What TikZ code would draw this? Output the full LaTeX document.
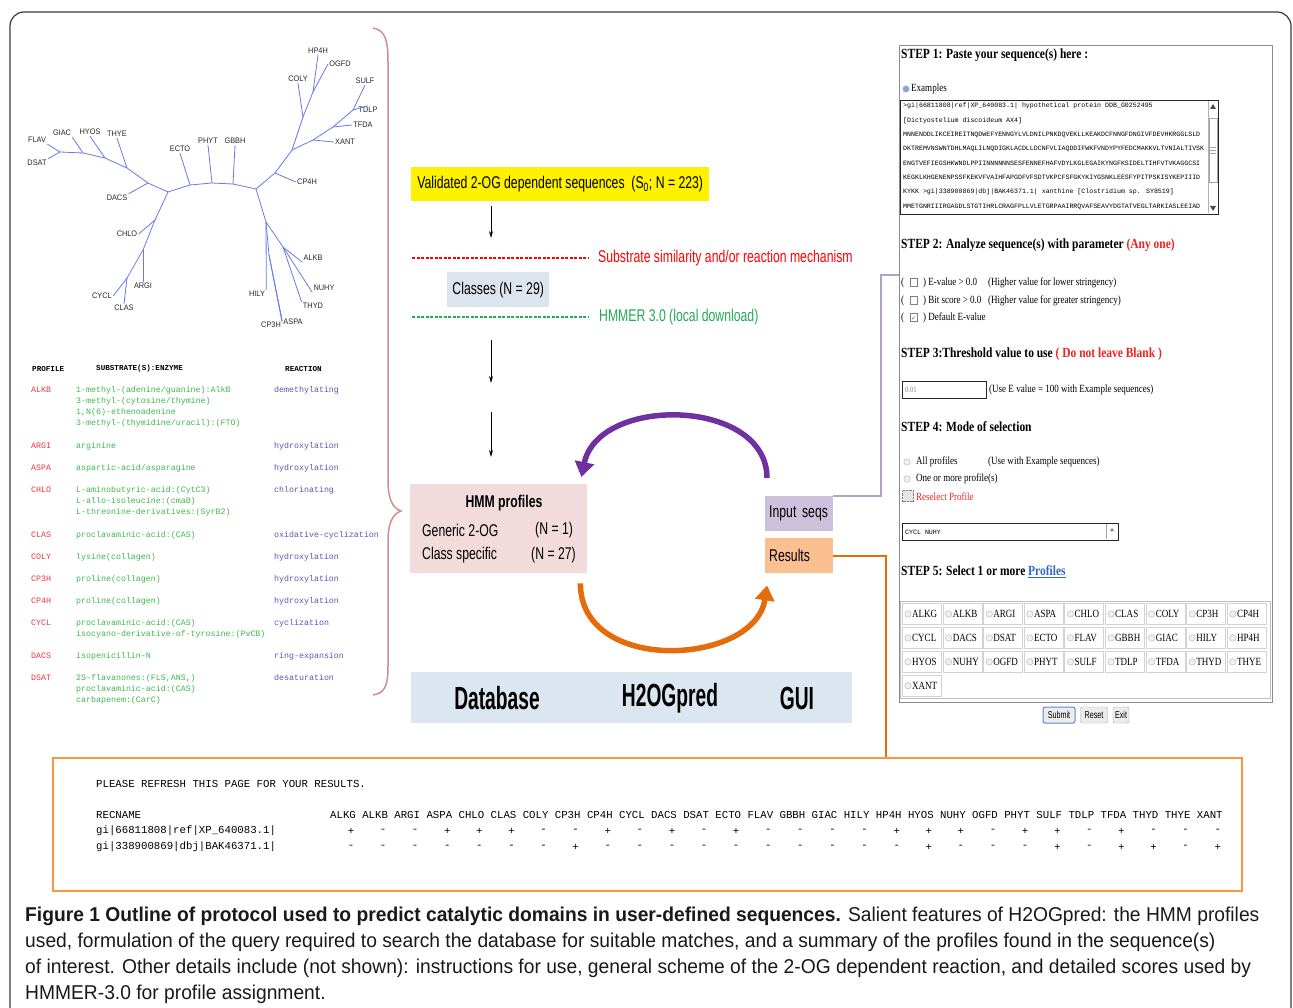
\documentclass[tikz,border=0pt]{standalone}
\usepackage{fontspec}
\setmainfont{Liberation Serif}
\newfontfamily\treefont[FakeStretch=0.92]{Liberation Sans}
\newfontfamily\flowfont[FakeStretch=0.72]{Liberation Sans}
\newfontfamily\barfont[FakeStretch=0.6]{Liberation Sans}
\newfontfamily\capfont[FakeStretch=0.962]{Liberation Sans}
\newfontfamily\codefont{Liberation Mono}
\newfontfamily\webfont[FakeStretch=0.82]{Liberation Serif}
\newfontfamily\symfont{DejaVu Sans}
\usetikzlibrary{positioning,arrows.meta,calc}

\definecolor{framegray}{HTML}{3A3A3A}
\definecolor{treeblue}{HTML}{6B78E8}
\definecolor{bracerose}{HTML}{D58C8C}
\definecolor{profred}{HTML}{EE3344}
\definecolor{subgreen}{HTML}{3DB84A}
\definecolor{reacblue}{HTML}{5A55B5}
\definecolor{hmmpink}{HTML}{F2DCDB}
\definecolor{classblue}{HTML}{DCE4EE}
\definecolor{dbblue}{HTML}{DCE6F1}
\definecolor{inlav}{HTML}{CCC1DA}
\definecolor{respeach}{HTML}{FAC090}
\definecolor{lavline}{HTML}{B3A2C7}
\definecolor{resorange}{HTML}{E46C0A}
\definecolor{boxorange}{HTML}{F79646}
\definecolor{arcpurple}{HTML}{7030A0}
\definecolor{hmmgreen}{HTML}{22AA55}
\definecolor{linkblue}{HTML}{3366CC}
\definecolor{stepred}{HTML}{EE2222}
\definecolor{panelgray}{HTML}{8C8C8C}

\newcommand{\emptybox}{{\color{gray}\setlength{\fboxsep}{0pt}\fbox{\rule{0pt}{7pt}\hspace{7pt}}}}
\newcommand{\tickedbox}{{\color{gray}\setlength{\fboxsep}{0pt}\fbox{\rule{0pt}{7pt}\makebox[7pt]{\symfont\fontsize{6}{6}\selectfont\textcolor{linkblue}{✓}}}}}

\begin{document}
\begin{tikzpicture}[x=1pt,y=-1pt,
  treeedge/.style={draw=treeblue, line width=0.8},
  treelab/.style={inner sep=1.2pt, text=black!85, font=\treefont\fontsize{8}{8}\selectfont},
  tabhead/.style={anchor=west, inner sep=0, font=\codefont\bfseries\fontsize{7.6}{7.6}\selectfont},
  profname/.style={anchor=west, inner sep=0, text=profred, font=\codefont\fontsize{8.3}{8.3}\selectfont},
  substr/.style={anchor=west, inner sep=0, text=subgreen, font=\codefont\fontsize{8.3}{8.3}\selectfont},
  reaction/.style={anchor=west, inner sep=0, text=reacblue, font=\codefont\fontsize{8.3}{8.3}\selectfont},
  flowtext/.style={anchor=west, inner sep=0, font=\flowfont\fontsize{17}{17}\selectfont},
  flowarrow/.style={-{Stealth[length=7pt,width=4pt]}, line width=0.8},
  steptitle/.style={anchor=west, inner sep=0, font=\webfont\bfseries\fontsize{14}{14}\selectfont},
  webtext/.style={anchor=west, inner sep=0, font=\webfont\fontsize{11}{11}\selectfont},
  seqline/.style={anchor=west, inner sep=0, font=\codefont\fontsize{6.6}{6.6}\selectfont},
  radiobtn/.style={circle, draw=gray!60, fill=gray!12, minimum size=6.5, inner sep=0},
  profcell/.style={draw=gray!35, line width=0.8, minimum width=39, minimum height=21, anchor=west, inner sep=0},
  webbtn/.style={rounded corners=2, fill=gray!15, draw=gray!70, minimum height=16, inner sep=1, font=\flowfont\fontsize{10}{10}\selectfont},
  restext/.style={anchor=west, inner sep=0, font=\codefont\fontsize{10.7}{10.7}\selectfont},
  captext/.style={anchor=west, inner sep=0, text=black!90, font=\capfont\fontsize{20}{20}\selectfont}]
\useasboundingbox (0,0) rectangle (1293,1008);
\draw[framegray, line width=1.2, rounded corners=14] (10,1008) -- (10,12) -- (1291,12) -- (1291,1008);

% tree of profiles
\node[treelab] (lHP4H) at (318,51) {HP4H};
\node[treelab] (lOGFD) at (340,64) {OGFD};
\node[treelab] (lCOLY) at (298,79) {COLY};
\node[treelab] (lSULF) at (365,81) {SULF};
\node[treelab] (lTDLP) at (368,110) {TDLP};
\node[treelab] (lTFDA) at (363,125) {TFDA};
\node[treelab] (lXANT) at (345,142) {XANT};
\node[treelab] (lCP4H) at (307,182) {CP4H};
\node[treelab] (lECTO) at (180,149) {ECTO};
\node[treelab] (lPHYT) at (208,141) {PHYT};
\node[treelab] (lGBBH) at (235,141) {GBBH};
\node[treelab] (lTHYE) at (117,134) {THYE};
\node[treelab] (lHYOS) at (90,132) {HYOS};
\node[treelab] (lGIAC) at (62,133) {GIAC};
\node[treelab] (lFLAV) at (37,140) {FLAV};
\node[treelab] (lDSAT) at (37,163) {DSAT};
\node[treelab] (lDACS) at (117,198) {DACS};
\node[treelab] (lCHLO) at (127,234) {CHLO};
\node[treelab] (lARGI) at (143,286) {ARGI};
\node[treelab] (lCYCL) at (102,296) {CYCL};
\node[treelab] (lCLAS) at (124,308) {CLAS};
\node[treelab] (lALKB) at (313,258) {ALKB};
\node[treelab] (lNUHY) at (324,288) {NUHY};
\node[treelab] (lTHYD) at (313,306) {THYD};
\node[treelab] (lHILY) at (257,294) {HILY};
\node[treelab] (lCP3H) at (271,325) {CP3H};
\node[treelab] (lASPA) at (293,322) {ASPA};
\coordinate (hubL) at (168,192);
\coordinate (eE) at (190,185);
\coordinate (eP) at (212,183);
\coordinate (eG) at (233,184);
\coordinate (hubR) at (256,189);
\coordinate (dA) at (148,183);
\coordinate (dB) at (127,168);
\coordinate (dC) at (105,158);
\coordinate (dD) at (83,153);
\coordinate (dE) at (60,152);
\coordinate (cA) at (155,220);
\coordinate (cB) at (143,250);
\coordinate (cC) at (127,278);
\coordinate (rA) at (275,173);
\coordinate (rB) at (292,150);
\coordinate (rC) at (303,117);
\coordinate (rD) at (313,92);
\coordinate (rE) at (313,140);
\coordinate (rF) at (333,127);
\coordinate (rG) at (353,110);
\coordinate (sA) at (266,222);
\coordinate (sB) at (269,255);
\coordinate (sC) at (283,247);
\draw[treeedge] (hubL) -- (eE) -- (eP) -- (eG) -- (hubR);
\draw[treeedge] (eE) -- (lECTO.south);
\draw[treeedge] (eP) -- (lPHYT.south);
\draw[treeedge] (eG) -- (lGBBH.south);
\draw[treeedge] (hubL) -- (dA) -- (dB) -- (dC) -- (dD) -- (dE);
\draw[treeedge] (dA) -- (lDACS.north east);
\draw[treeedge] (dB) -- (lTHYE.south);
\draw[treeedge] (dC) -- (lHYOS.south);
\draw[treeedge] (dD) -- (lGIAC.south east);
\draw[treeedge] (dE) -- (lFLAV.south east);
\draw[treeedge] (dE) -- (lDSAT.north east);
\draw[treeedge] (hubL) -- (cA) -- (cB) -- (cC);
\draw[treeedge] (cA) -- (lCHLO.east);
\draw[treeedge] (cB) -- (lARGI.north);
\draw[treeedge] (cC) -- (lCYCL.east);
\draw[treeedge] (cC) -- (lCLAS.north);
\draw[treeedge] (hubR) -- (rA) -- (rB) -- (rC) -- (rD);
\draw[treeedge] (rA) -- (lCP4H.west);
\draw[treeedge] (rC) -- (lCOLY.south);
\draw[treeedge] (rD) -- (lHP4H.south);
\draw[treeedge] (rD) -- (lOGFD.west);
\draw[treeedge] (rB) -- (rE) -- (rF) -- (rG);
\draw[treeedge] (rE) -- (lXANT.west);
\draw[treeedge] (rF) -- (lTFDA.west);
\draw[treeedge] (rG) -- (lTDLP.north);
\draw[treeedge] (rG) -- (lSULF.south);
\draw[treeedge] (hubR) -- (sA) -- (lHILY.north east);
\draw[treeedge] (sA) -- (sB) -- (lCP3H.north east);
\draw[treeedge] (sB) -- (lASPA.west);
\draw[treeedge] (sA) -- (sC) -- (lALKB.south west);
\draw[treeedge] (sC) -- (lNUHY.south west);
\draw[treeedge] (sC) -- (lTHYD.north west);

% profile table
\node[tabhead] (hprof) at (32,369) {PROFILE};
\node[tabhead] (hsub) at (96,369) {SUBSTRATE(S):ENZYME};
\node[tabhead] (hreac) at (285,369) {REACTION};
\node[profname] (pALKB) at (31,390) {ALKB};
\node[substr] (sALKB1) at (76,390) {1-methyl-(adenine/guanine):AlkB};
\node[substr] (sALKB2) at (76,401) {3-methyl-(cytosine/thymine)};
\node[substr] (sALKB3) at (76,412) {1,N(6)-ethenoadenine};
\node[substr] (sALKB4) at (76,423) {3-methyl-(thymidine/uracil):(FTO)};
\node[reaction] (rALKB) at (274,390) {demethylating};
\node[profname] (pARGI) at (31,446) {ARGI};
\node[substr] (sARGI) at (76,446) {arginine};
\node[reaction] (rARGI) at (274,446) {hydroxylation};
\node[profname] (pASPA) at (31,468) {ASPA};
\node[substr] (sASPA) at (76,468) {aspartic-acid/asparagine};
\node[reaction] (rASPA) at (274,468) {hydroxylation};
\node[profname] (pCHLO) at (31,490) {CHLO};
\node[substr] (sCHLO1) at (76,490) {L-aminobutyric-acid:(CytC3)};
\node[substr] (sCHLO2) at (76,501) {L-allo-isoleucine:(cmaB)};
\node[substr] (sCHLO3) at (76,512) {L-threonine-derivatives:(SyrB2)};
\node[reaction] (rCHLO) at (274,490) {chlorinating};
\node[profname] (pCLAS) at (31,535) {CLAS};
\node[substr] (sCLAS) at (76,535) {proclavaminic-acid:(CAS)};
\node[reaction] (rCLAS) at (274,535) {oxidative-cyclization};
\node[profname] (pCOLY) at (31,557) {COLY};
\node[substr] (sCOLY) at (76,557) {lysine(collagen)};
\node[reaction] (rCOLY) at (274,557) {hydroxylation};
\node[profname] (pCP3H) at (31,579) {CP3H};
\node[substr] (sCP3H) at (76,579) {proline(collagen)};
\node[reaction] (rCP3H) at (274,579) {hydroxylation};
\node[profname] (pCP4H) at (31,601) {CP4H};
\node[substr] (sCP4H) at (76,601) {proline(collagen)};
\node[reaction] (rCP4H) at (274,601) {hydroxylation};
\node[profname] (pCYCL) at (31,623) {CYCL};
\node[substr] (sCYCL1) at (76,623) {proclavaminic-acid:(CAS)};
\node[substr] (sCYCL2) at (76,634) {isocyano-derivative-of-tyrosine:(PvCB)};
\node[reaction] (rCYCL) at (274,623) {cyclization};
\node[profname] (pDACS) at (31,656) {DACS};
\node[substr] (sDACS) at (76,656) {isopenicillin-N};
\node[reaction] (rDACS) at (274,656) {ring-expansion};
\node[profname] (pDSAT) at (31,678) {DSAT};
\node[substr] (sDSAT1) at (76,678) {2S-flavanones:(FLS,ANS,)};
\node[substr] (sDSAT2) at (76,689) {proclavaminic-acid:(CAS)};
\node[substr] (sDSAT3) at (76,700) {carbapenem:(CarC)};
\node[reaction] (rDSAT) at (274,678) {desaturation};
\draw[bracerose, line width=1.5] (373,28) .. controls (386,30) and (388,42) .. (388,62) -- (388,480)
  .. controls (388,498) and (392,508) .. (401,511) .. controls (392,514) and (388,524) .. (388,542)
  -- (388,665) .. controls (388,684) and (386,693) .. (373,695);

% protocol flow
\node[fill=yellow, minimum width=298, minimum height=34, anchor=north west, inner sep=0,
  font=\flowfont\fontsize{17}{17}\selectfont] (valid) at (411,167) {Validated 2-OG dependent sequences\ \ (S\textsubscript{0}; N = 223)};
\coordinate (ar1a) at (491,206);
\coordinate (ar1b) at (491,238);
\draw[flowarrow] (ar1a) -- (ar1b);
\coordinate (reddash) at (412,258);
\node[flowtext, text=red] (mech) at (598,258) {Substrate similarity and/or reaction mechanism};
\draw[red, line width=1.3, dash pattern=on 3pt off 1.5pt] (reddash) -- ([xshift=-10pt]mech.west);
\node[fill=classblue, minimum width=102, minimum height=35, anchor=north west, inner sep=0,
  font=\flowfont\fontsize{17}{17}\selectfont] (classes) at (447,272) {Classes (N = 29)};
\coordinate (greendash) at (412,317);
\node[flowtext, text=hmmgreen] (hmmer) at (599,317) {HMMER 3.0 (local download)};
\draw[hmmgreen, line width=1.3, dash pattern=on 3pt off 1.5pt] (greendash) -- ([xshift=-11pt]hmmer.west);
\coordinate (ar2a) at (491,340);
\coordinate (ar2b) at (491,383);
\draw[flowarrow] (ar2a) -- (ar2b);
\coordinate (ar3a) at (491,412);
\coordinate (ar3b) at (491,457);
\draw[flowarrow] (ar3a) -- (ar3b);
\node[fill=hmmpink, minimum width=177, minimum height=89, anchor=north west, inner sep=0] (hmm) at (410,484) {};
\node[flowtext, anchor=center, font=\flowfont\bfseries\fontsize{17}{17}\selectfont] (hmmtitle) at (504,503) {HMM profiles};
\node[flowtext] (gen) at (422,530) {Generic 2-OG};
\node[flowtext] (genn) at (535,530) {(N = 1)};
\node[flowtext] (cls) at (422,555) {Class specific};
\node[flowtext] (clsn) at (531,555) {(N = 27)};
\node[fill=inlav, minimum height=35, text width=60, align=left, inner xsep=4, inner ysep=0, anchor=north west,
  font=\flowfont\fontsize{17}{17}\selectfont] (inseq) at (765,496) {Input seqs};
\node[fill=respeach, minimum height=35, text width=60, align=left, inner xsep=4, inner ysep=0, anchor=north west,
  font=\flowfont\fontsize{17}{17}\selectfont] (results) at (765,538) {Results};
\draw[arcpurple, line width=5.5, -{Triangle[length=15pt,width=19pt]}] ([shift={(2,-18)}]inseq.north west)
  .. controls +(0,-80) and +(17,-82) .. ([shift={(-6,-7)}]hmm.north east);
\draw[resorange, line width=5.5, -{Triangle[length=15pt,width=19pt]}] ([shift={(-7,10)}]hmm.south east)
  .. controls +(0,92) and +(-12,80) .. ([shift={(2,12)}]results.south west);
\node[fill=dbblue, minimum width=441, minimum height=51, anchor=north west, inner sep=0] (dbbar) at (411,672) {};
\node[font=\barfont\bfseries\fontsize{32}{32}\selectfont, inner sep=0] (dbtxt) at (497,698) {Database};
\node[font=\barfont\bfseries\fontsize{32}{32}\selectfont, inner sep=0] (predtxt) at (670,698) {H2OGpred};
\node[font=\barfont\bfseries\fontsize{32}{32}\selectfont, inner sep=0] (guitxt) at (797,698) {GUI};

% web form
\node[draw=panelgray, line width=0.9, minimum width=373, minimum height=657, anchor=north west, inner sep=0] (panel) at (899,45) {};
\coordinate (lavturn) at (881,275);
\draw[lavline, line width=1.6] (inseq.north east) -| (lavturn) -- (lavturn -| panel.west);
\node[steptitle] (s1) at (901,55) {STEP 1: Paste your sequence(s) here :};
\node[radiobtn, fill=linkblue!60] (exrad) at (906,89) {};
\node[webtext] (ex) at (911,89) {Examples};
\node[draw=black!85, line width=1, minimum width=318, minimum height=114, anchor=north west, inner sep=0] (seqbox) at (900,100) {};
\node[seqline] (q1) at (903,106) {>gi|66811808|ref|XP\_640083.1| hypothetical protein DDB\_G0252495};
\node[seqline] (q2) at (903,121) {[Dictyostelium discoideum AX4]};
\node[seqline] (q3) at (903,135) {MNNENDDLIKCEIREITNQDWEFYENNGYLVLDNILPNKDQVEKLLKEAKDCFNNGFDNGIVFDEVHKRGGLSLD};
\node[seqline] (q4) at (903,149) {DKTREMVNSWNTDHLMAQLILNQDIGKLACDLLDCNFVLIAQDDIFWKFVNDYPYFEDCMAKKVLTVNIALTIVSK};
\node[seqline] (q5) at (903,163) {ENGTVEFIEGSHKWNDLPPIINNNNNNSESFENNEFHAFVDYLKGLEGAIKYNGFKSIDELTIHFVTVKAGGCSI};
\node[seqline] (q6) at (903,177) {KEGKLKHGENENPSSFKEKVFVAIHFAPGDFVFSDTVKPCFSFGKYKIYGSNKLEESFYPITPSKISYKEPIIID};
\node[seqline] (q7) at (903,192) {KYKK >gi|338900869|dbj|BAK46371.1| xanthine [Clostridium sp. SY8519]};
\node[seqline] (q8) at (903,207) {MMETGNRIIIRGAGDLSTGTIHRLCRAGFPLLVLETGRPAAIRRQVAFSEAVYDGTATVEGLTARKIASLEEIAD};
\draw[gray!60] (1208,101) -- (1208,213);
\fill[black!70] (1210,109) -- (1216,109) -- (1213,104) -- cycle;
\fill[black!70] (1210,206) -- (1216,206) -- (1213,211) -- cycle;
\draw[gray!70] (1209,118) rectangle (1217,182);
\draw[gray!70] (1210,147) -- (1216,147) (1210,150) -- (1216,150) (1210,153) -- (1216,153);
\node[steptitle] (s2) at (901,245) {STEP 2: Analyze sequence(s) with parameter \textcolor{stepred}{(Any one)}};
\node[webtext] (o1) at (901,283) {(\enspace\emptybox\enspace) E-value > 0.0};
\node[webtext] (o1b) at (988,283) {(Higher value for lower stringency)};
\node[webtext] (o2) at (901,301) {(\enspace\emptybox\enspace) Bit score > 0.0};
\node[webtext] (o2b) at (988,301) {(Higher value for greater stringency)};
\node[webtext] (o3) at (901,318) {(\enspace\tickedbox\enspace) Default E-value};
\node[steptitle] (s3) at (901,354) {STEP 3:Threshold value to use \textcolor{stepred}{( Do not leave Blank )}};
\node[draw=black!85, line width=0.9, minimum width=84, minimum height=17, anchor=north west, inner sep=0] (thr) at (902,381) {};
\node[webtext, text=gray, font=\webfont\fontsize{8}{8}\selectfont] (thrval) at (905,390) {0.01};
\node[webtext] (thrnote) at (989,390) {(Use E value = 100 with Example sequences)};
\node[steptitle] (s4) at (901,427) {STEP 4: Mode of selection};
\node[radiobtn] (allrad) at (907,462) {};
\node[webtext] (all) at (916,462) {All profiles};
\node[webtext] (allnote) at (988,462) {(Use with Example sequences)};
\node[radiobtn] (onerad) at (907,479) {};
\node[webtext] (one) at (916,479) {One or more profile(s)};
\node[draw=gray, densely dotted, fill=gray!20, minimum size=11, inner sep=0] (reselbox) at (908,496) {};
\node[webtext, text=stepred] (resel) at (916,497) {Reselect Profile};
\node[draw=black!85, line width=0.9, minimum width=216, minimum height=17, anchor=north west, inner sep=0] (selbox) at (902,523) {};
\node[seqline] (selval) at (905,532) {CYCL NUHY};
\draw[gray!70] (1106,524) -- (1106,539);
\fill[gray] (1110,531) -- (1114,531) -- (1112,528) -- cycle;
\node[steptitle] (s5) at (901,572) {STEP 5: Select 1 or more \textcolor{linkblue}{\underline{Profiles}}};
\draw[gray!50] (900,601) rectangle (1270,698);
\foreach \pname [count=\k from 0] in {ALKG,ALKB,ARGI,ASPA,CHLO,CLAS,COLY,CP3H,CP4H,CYCL,DACS,DSAT,ECTO,FLAV,GBBH,GIAC,HILY,HP4H,HYOS,NUHY,OGFD,PHYT,SULF,TDLP,TFDA,THYD,THYE,XANT}{
  \pgfmathsetmacro\cx{902+40.6*mod(\k,9)}
  \pgfmathsetmacro\cy{614+23.9*floor(\k/9)}
  \node[profcell] (cell\k) at (\cx,\cy) {};
  \node[radiobtn] (rad\k) at ({\cx+6},\cy) {};
  \node[webtext] (pl\k) at ({\cx+10},\cy) {\pname};
}
\node[webbtn, draw=linkblue!80, line width=1, minimum width=32] (submit) at (1059,715) {Submit};
\node[webbtn, minimum width=27] (reset) at (1094,715) {Reset};
\node[webbtn, minimum width=16] (exitb) at (1121,715) {Exit};

% result page
\node[draw=boxorange, line width=1.6, minimum width=1189, minimum height=133, anchor=north west, inner sep=0] (resbox) at (52,757) {};
\coordinate (orgturn) at (886,0);
\draw[resorange, line width=1.6] (results.east) -| (resbox.north -| orgturn);
\node[restext] (refresh) at (96,784) {PLEASE REFRESH THIS PAGE FOR YOUR RESULTS.};
\node[restext] (recname) at (96,815) {RECNAME};
\node[restext] (colnames) at (330,815) {ALKG ALKB ARGI ASPA CHLO CLAS COLY CP3H CP4H CYCL DACS DSAT ECTO FLAV GBBH GIAC HILY HP4H HYOS NUHY OGFD PHYT SULF TDLP TFDA THYD THYE XANT};
\node[restext] (rec1) at (96,831) {gi|66811808|ref|XP\_640083.1|};
\node[restext] (rec2) at (96,847) {gi|338900869|dbj|BAK46371.1|};
\foreach \v [count=\i from 0] in {+,-,-,+,+,+,-,-,+,-,+,-,+,-,-,-,-,+,+,+,-,+,+,-,+,-,-,-}
  \node[restext, anchor=center] (hitA\i) at ({351+32.1*\i},831) {\v};
\foreach \v [count=\i from 0] in {-,-,-,-,-,-,-,+,-,-,-,-,-,-,-,-,-,-,+,-,-,-,+,-,+,+,-,+}
  \node[restext, anchor=center] (hitB\i) at ({351+32.1*\i},847) {\v};

% caption
\node[captext] (cap1) at (25,916) {{\bfseries Figure 1 Outline of protocol used to predict catalytic domains in user-defined sequences.} Salient features of H2OGpred: the HMM profiles};
\node[captext] (cap2) at (25,942) {used, formulation of the query required to search the database for suitable matches, and a summary of the profiles found in the sequence(s)};
\node[captext] (cap3) at (25,968) {of interest. Other details include (not shown): instructions for use, general scheme of the 2-OG dependent reaction, and detailed scores used by};
\node[captext] (cap4) at (25,994) {HMMER-3.0 for profile assignment.};
\end{tikzpicture}
\end{document}
